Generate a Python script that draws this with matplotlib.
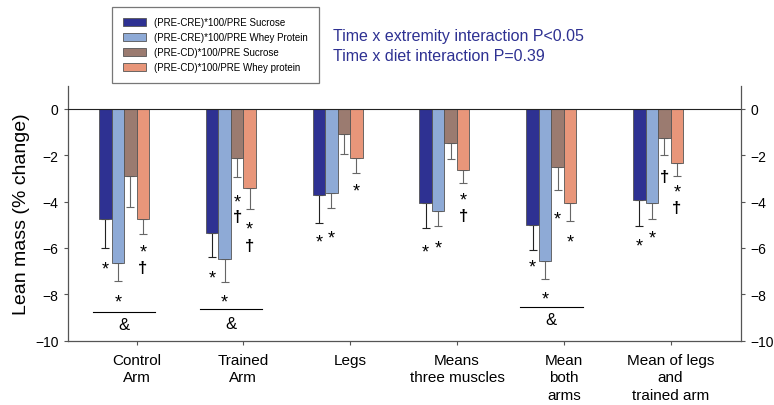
import numpy as np
import matplotlib
matplotlib.use("Agg")
import matplotlib.pyplot as plt
from matplotlib.patches import Patch

plt.rcParams['font.family'] = ['Liberation Sans', 'DejaVu Sans']

groups = ["Control\nArm", "Trained\nArm", "Legs", "Means\nthree muscles",
          "Mean\nboth\narms", "Mean of legs\nand\ntrained arm"]
series = ["(PRE-CRE)*100/PRE Sucrose", "(PRE-CRE)*100/PRE Whey Protein",
          "(PRE-CD)*100/PRE Sucrose", "(PRE-CD)*100/PRE Whey protein"]
colors = ["#2e3192", "#8eaad6", "#9b7b70", "#e8967a"]

cre_sucrose = [-4.75, -5.34, -3.70, -4.06, -5.03, -3.94]
cre_whey = [-6.65, -6.49, -3.61, -4.42, -6.57, -4.04]
cd_sucrose = [-2.91, -2.10, -1.09, -1.47, -2.52, -1.27]
cd_whey = [-4.76, -3.40, -2.13, -2.63, -4.07, -2.33]

cre_sucrose_se = [1.26, 1.06, 1.22, 1.06, 1.07, 1.11]
cre_whey_se = [0.79, 0.96, 0.66, 0.63, 0.78, 0.69]
cd_sucrose_se = [1.34, 0.85, 0.85, 0.70, 1.00, 0.73]
cd_whey_se = [0.65, 0.92, 0.62, 0.56, 0.76, 0.58]

# (group, bar, y, symbol)
marks = [
    (0, 0, -6.7, "*"), (0, 1, -8.13, "*"), (0, 3, -5.94, "*"), (0, 3, -6.86, "†"),
    (1, 0, -7.09, "*"), (1, 1, -8.13, "*"), (1, 2, -3.81, "*"), (1, 2, -4.65, "†"),
    (1, 3, -4.96, "*"), (1, 3, -5.9, "†"),
    (2, 0, -5.54, "*"), (2, 1, -5.37, "*"), (2, 3, -3.31, "*"),
    (3, 0, -5.97, "*"), (3, 1, -5.80, "*"), (3, 3, -3.72, "*"), (3, 3, -4.6, "†"),
    (4, 0, -6.62, "*"), (4, 1, -7.98, "*"), (4, 2, -4.53, "*"), (4, 3, -5.54, "*"),
    (5, 0, -5.71, "*"), (5, 1, -5.37, "*"), (5, 2, -2.92, "†"), (5, 3, -3.38, "*"),
    (5, 3, -4.24, "†"),
]
# (group, y of line, y of &)
amp = [(0, -8.76, -9.31), (1, -8.62, -9.24), (4, -8.56, -9.09)]

values = [cre_sucrose, cre_whey, cd_sucrose, cd_whey]
errors = [cre_sucrose_se, cre_whey_se, cd_sucrose_se, cd_whey_se]

fig = plt.figure(figsize=(7.74, 4.06), dpi=100)
ax = fig.add_axes([0.0875, 0.1584, 0.87, 0.628])

x = np.arange(len(groups))
w = 0.117
for i in range(4):
    pos = x + (i - 1.5) * w
    ax.bar(pos, values[i], w, color=colors[i], edgecolor="#555555", linewidth=0.6,
           label=series[i], zorder=2)
    ecol = "#222222" if i == 0 else "#666666"
    ax.errorbar(pos, values[i], yerr=[errors[i], [0] * len(groups)], fmt="none",
                ecolor=ecol, elinewidth=0.8, capsize=3, capthick=0.8, zorder=1)

for g, b, yy, s in marks:
    xx = x[g] + (b - 1.5) * w
    if s == "*":
        ax.text(xx, yy - 0.22, s, ha="center", va="center", fontsize=13)
    else:
        ax.text(xx, yy, s, ha="center", va="center", fontsize=12, fontweight="bold")

for g, yl, ya in amp:
    ax.plot([x[g] - 2.5 * w, x[g] + 2.5 * w], [yl, yl], color="black", lw=0.8)
    ax.text(x[g], ya, "&", ha="center", va="center", fontsize=12)

ax.axhline(0, color="#222222", lw=0.8, zorder=3)
ax.set_xlim(-0.527, 5.777)
ax.set_ylim(-10, 1)
ax.set_yticks(np.arange(-10, 1, 2))
ax.set_xticks(x + w)
ax.set_xticklabels(groups, fontsize=11, linespacing=1.3)
ax.tick_params(axis="y", labelsize=10, right=True, labelright=True, length=3, color="#555555")
ax.tick_params(axis="x", length=3, color="#555555", pad=6)
ax.spines["top"].set_visible(False)
for sp in ["left", "right", "bottom"]:
    ax.spines[sp].set_color("#555555")
    ax.spines[sp].set_linewidth(0.9)
ax.set_ylabel("Lean mass (% change)", fontsize=14, labelpad=4)

handles = [Patch(facecolor=c, edgecolor="#555555", linewidth=0.6) for c in colors]
leg = fig.legend(handles, series, loc="upper left", bbox_to_anchor=(0.139, 0.993),
                 fontsize=7, frameon=True, fancybox=False, edgecolor="#555555",
                 handlelength=2.4, handleheight=0.9, borderpad=1.1, labelspacing=0.5)
leg.get_frame().set_linewidth(0.9)

fig.text(0.43, 0.898, "Time x extremity interaction P<0.05", color="#2e3192", fontsize=11.5)
fig.text(0.43, 0.85, "Time x diet interaction P=0.39", color="#2e3192", fontsize=11.5)

fig.savefig("out.png", dpi=100)
